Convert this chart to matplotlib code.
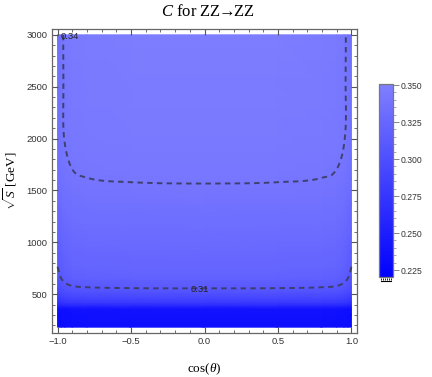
import numpy as np
import matplotlib
matplotlib.use("Agg")
import matplotlib.pyplot as plt
import matplotlib.tri as mtri
from matplotlib.colors import LinearSegmentedColormap
from matplotlib.lines import Line2D
from matplotlib.ticker import MultipleLocator

plt.rcParams['mathtext.fontset'] = 'custom'
plt.rcParams['mathtext.rm'] = 'Liberation Serif'
plt.rcParams['mathtext.it'] = 'Liberation Serif:italic'

# ---- data ----
cos_theta = [-1.0, -0.975, -0.95, -0.9, -0.8, -0.5, 0.0, 0.5, 0.8, 0.9, 0.95, 0.975, 1.0]
sqrt_s = [182, 300, 360, 390, 420, 460, 510, 560, 650, 750, 900, 1100, 1350, 1600, 1800, 2100, 2500, 3000]
C_values = [
    [0.2310, 0.2328, 0.2339, 0.2350, 0.2355, 0.2359, 0.2360, 0.2359, 0.2355, 0.2350, 0.2339, 0.2328, 0.2310],
    [0.2320, 0.2338, 0.2349, 0.2360, 0.2365, 0.2369, 0.2370, 0.2369, 0.2365, 0.2360, 0.2349, 0.2338, 0.2320],
    [0.2340, 0.2361, 0.2375, 0.2388, 0.2394, 0.2399, 0.2400, 0.2399, 0.2394, 0.2388, 0.2375, 0.2361, 0.2340],
    [0.2530, 0.2562, 0.2582, 0.2602, 0.2611, 0.2618, 0.2620, 0.2618, 0.2611, 0.2602, 0.2582, 0.2562, 0.2530],
    [0.2680, 0.2719, 0.2744, 0.2768, 0.2779, 0.2788, 0.2790, 0.2788, 0.2779, 0.2768, 0.2744, 0.2719, 0.2680],
    [0.2780, 0.2826, 0.2855, 0.2884, 0.2897, 0.2907, 0.2910, 0.2907, 0.2897, 0.2884, 0.2855, 0.2826, 0.2780],
    [0.2885, 0.2934, 0.2966, 0.2997, 0.3011, 0.3022, 0.3025, 0.3022, 0.3011, 0.2997, 0.2966, 0.2934, 0.2885],
    [0.2965, 0.3014, 0.3046, 0.3077, 0.3091, 0.3102, 0.3105, 0.3102, 0.3091, 0.3077, 0.3046, 0.3014, 0.2965],
    [0.3050, 0.3099, 0.3131, 0.3162, 0.3176, 0.3187, 0.3190, 0.3187, 0.3176, 0.3162, 0.3131, 0.3099, 0.3050],
    [0.3095, 0.3144, 0.3176, 0.3207, 0.3221, 0.3232, 0.3235, 0.3232, 0.3221, 0.3207, 0.3176, 0.3144, 0.3095],
    [0.3140, 0.3186, 0.3215, 0.3244, 0.3257, 0.3267, 0.3270, 0.3267, 0.3257, 0.3244, 0.3215, 0.3186, 0.3140],
    [0.3200, 0.3239, 0.3264, 0.3288, 0.3299, 0.3308, 0.3310, 0.3308, 0.3299, 0.3288, 0.3264, 0.3239, 0.3200],
    [0.3265, 0.3298, 0.3320, 0.3341, 0.3351, 0.3358, 0.3360, 0.3358, 0.3351, 0.3341, 0.3320, 0.3298, 0.3265],
    [0.3320, 0.3350, 0.3369, 0.3388, 0.3397, 0.3403, 0.3405, 0.3403, 0.3397, 0.3388, 0.3369, 0.3350, 0.3320],
    [0.3342, 0.3371, 0.3390, 0.3408, 0.3417, 0.3423, 0.3425, 0.3423, 0.3417, 0.3408, 0.3390, 0.3371, 0.3342],
    [0.3355, 0.3387, 0.3407, 0.3427, 0.3436, 0.3443, 0.3445, 0.3443, 0.3436, 0.3427, 0.3407, 0.3387, 0.3355],
    [0.3340, 0.3382, 0.3410, 0.3436, 0.3448, 0.3458, 0.3460, 0.3458, 0.3448, 0.3436, 0.3410, 0.3382, 0.3340],
    [0.3329, 0.3380, 0.3414, 0.3446, 0.3460, 0.3472, 0.3475, 0.3472, 0.3460, 0.3446, 0.3414, 0.3380, 0.3329],
]
contour_levels = [0.31, 0.34]
contour_labels = ["0.31", "0.34"]
cbar_ticks = [0.225, 0.250, 0.275, 0.300, 0.325, 0.350]
cbar_range = [0.2203, 0.3507]

# ---- figure ----
fig = plt.figure(figsize=(4.32, 3.77), dpi=100)
ax = fig.add_axes([51.7 / 432, 44 / 377, 305.6 / 432, 304 / 377])

cmap = LinearSegmentedColormap.from_list("bl", [(0.0, 0.0, 1.0), (0.5, 0.5, 1.0)])

X = np.array(cos_theta)
Y = np.array(sqrt_s, dtype=float)
Z = np.array(C_values)
nx, ny = len(X), len(Y)
XX, YY = np.meshgrid(X, Y)
tris = []
for j in range(ny - 1):
    for i in range(nx - 1):
        a = j * nx + i
        tris.append([a, a + 1, a + nx])
        tris.append([a + 1, a + nx + 1, a + nx])
tris = np.array(tris)

# colour field: linear (gouraud) shading on the data grid
tri_plot = mtri.Triangulation(XX.ravel(), YY.ravel(), triangles=tris)
tpc = ax.tripcolor(tri_plot, Z.ravel(), shading='gouraud', cmap=cmap,
                   vmin=cbar_range[0], vmax=cbar_range[1], rasterized=True)

# contour lines: smooth (cubic) refinement of the same grid
tri_n = mtri.Triangulation(XX.ravel(), YY.ravel() / 1000.0, triangles=tris)
interp = mtri.CubicTriInterpolator(tri_n, Z.ravel(), kind='geom')
refiner = mtri.UniformTriRefiner(tri_n)
tri_r, z_r = refiner.refine_field(Z.ravel(), triinterpolator=interp, subdiv=4)
tri_p = mtri.Triangulation(tri_r.x, tri_r.y * 1000.0, triangles=tri_r.triangles)
ax.tricontour(tri_p, z_r, levels=contour_levels, colors='#3b3b5e',
              linewidths=1.4, linestyles=[(0, (2.8, 2.2))], alpha=0.9)

ax.text(-0.917, 2985, contour_labels[1], fontsize=6.8, family='Liberation Sans',
        ha='center', va='center', color='#222222')
ax.text(-0.034, 545, contour_labels[0], fontsize=6.8, family='Liberation Sans',
        ha='center', va='center', color='#222222')

ax.set_xlim(-1.04, 1.04)
ax.set_ylim(126, 3056)
ax.xaxis.set_major_locator(MultipleLocator(0.5))
ax.xaxis.set_minor_locator(MultipleLocator(0.1))
ax.yaxis.set_major_locator(MultipleLocator(500))
ax.yaxis.set_minor_locator(MultipleLocator(100))
ax.set_yticks([500, 1000, 1500, 2000, 2500, 3000])
ax.set_xticks([-1.0, -0.5, 0.0, 0.5, 1.0])
ax.set_xticklabels(["\u22121.0", "\u22120.5", "0.0", "0.5", "1.0"])
ax.tick_params(which='both', direction='in', top=True, right=True, color='#555555',
               labelsize=6.8, labelcolor='#333333', pad=3)
ax.tick_params(which='major', length=4, width=0.8)
ax.tick_params(which='minor', length=2.2, width=0.6)
for lab in ax.get_xticklabels() + ax.get_yticklabels():
    lab.set_family('Liberation Sans')
for sp in ax.spines.values():
    sp.set_color('#666666')
    sp.set_linewidth(0.9)

ax.set_xlabel(r"cos($\mathit{\theta}$)", fontsize=9.5, family='Liberation Serif', labelpad=11)
ax.set_ylabel(r"$\sqrt{\mathit{S}}$ [GeV]", fontsize=9.5, family='Liberation Serif', labelpad=5)

fig.text(208 / 432, 1 - 12 / 377, r"$\mathit{C}$ for ZZ$\!\!\rightarrow\!\!$ZZ", fontsize=12,
         family=['Liberation Serif', 'DejaVu Serif'], ha='center', va='center')

# colorbar
cax = fig.add_axes([379.3 / 432, 100 / 377, 13.4 / 432, 193 / 377])
cb = fig.colorbar(tpc, cax=cax, ticks=cbar_ticks)
cb.outline.set_edgecolor('#777777')
cb.outline.set_linewidth(0.9)
cb.ax.yaxis.set_minor_locator(MultipleLocator(0.005))
cb.ax.tick_params(which='both', direction='out', color='#888888', labelsize=6.2,
                  labelcolor='#333333', pad=2)
cb.ax.tick_params(which='major', length=4, width=0.7)
cb.ax.tick_params(which='minor', length=2, width=0.5)
cb.ax.set_yticklabels(["%.3f" % t for t in cbar_ticks])
for lab in cb.ax.get_yticklabels():
    lab.set_family('Liberation Sans')

# small out-of-range marker below the colorbar
yb = 1 - 281 / 377
fig.add_artist(Line2D([381 / 432, 391 / 432], [yb, yb], color='black', lw=0.8,
                      transform=fig.transFigure))
fig.add_artist(Line2D(np.linspace(381, 391, 6) / 432, [yb + 0.004] * 6, color='black',
                      lw=0, marker='|', markersize=2, markeredgewidth=0.6,
                      transform=fig.transFigure))

fig.savefig("out.png", dpi=100)
